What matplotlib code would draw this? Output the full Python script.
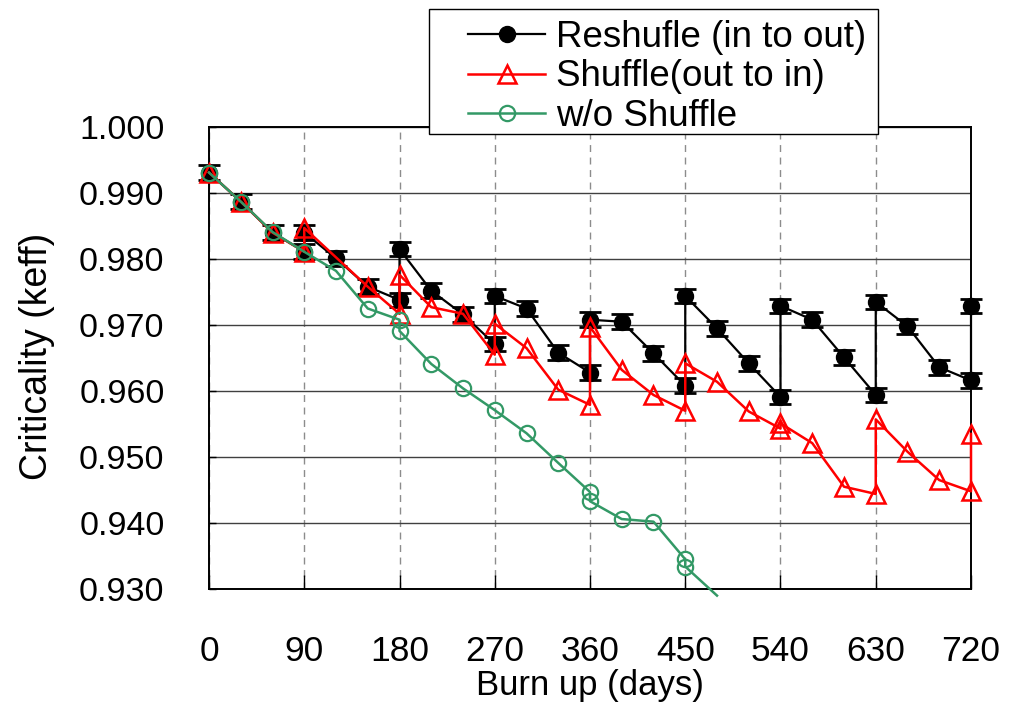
import matplotlib
matplotlib.use('Agg')
import matplotlib.pyplot as plt
from matplotlib.patches import Rectangle

plt.rcParams['font.family'] = ['Liberation Sans', 'Noto Sans CJK JP', 'DejaVu Sans']

# Reshufle (in to out)
days_re = [0, 30, 60, 90, 90, 120, 150, 180, 180, 210, 240, 270, 270, 300, 330, 360, 360,
           390, 420, 450, 450, 480, 510, 540, 540, 570, 600, 630, 630, 660, 690, 720, 720]
keff_re = [0.9931, 0.9887, 0.9840, 0.9811, 0.9840, 0.9801, 0.9758, 0.9738, 0.9815, 0.9752,
           0.9716, 0.9671, 0.9744, 0.9725, 0.9658, 0.9628, 0.9708, 0.9705, 0.9657, 0.9608,
           0.9744, 0.9695, 0.9642, 0.9591, 0.9729, 0.9708, 0.9651, 0.9594, 0.9735, 0.9698,
           0.9636, 0.9616, 0.9729]
err_re = 0.0011

# Shuffle(out to in)
days_sh = [0, 30, 60, 90, 90, 150, 180, 180, 210, 240, 270, 270, 300, 330, 360, 360,
           390, 420, 450, 450, 480, 510, 540, 540, 570, 600, 630, 630, 660, 690, 720, 720]
keff_sh = [0.9931, 0.9887, 0.9840, 0.9811, 0.9847, 0.9758, 0.9717, 0.9776, 0.9727, 0.9717,
           0.9655, 0.9702, 0.9665, 0.9602, 0.9579, 0.9697, 0.9632, 0.9594, 0.9570, 0.9642,
           0.9614, 0.9569, 0.9543, 0.9551, 0.9521, 0.9455, 0.9444, 0.9557, 0.9508, 0.9465,
           0.9448, 0.9535]

# w/o Shuffle
days_no = [0, 30, 60, 90, 120, 150, 180, 180, 210, 240, 270, 300, 330, 360, 360,
           390, 420, 450, 450, 480]
keff_no = [0.9931, 0.9887, 0.9841, 0.9811, 0.9782, 0.9725, 0.9708, 0.9691, 0.9641, 0.9604,
           0.9571, 0.9536, 0.9491, 0.9447, 0.9433, 0.9406, 0.9402, 0.9345, 0.9334, 0.9290]

xticks = [0, 90, 180, 270, 360, 450, 540, 630, 720]
yticks = [0.930, 0.940, 0.950, 0.960, 0.970, 0.980, 0.990, 1.000]

fig = plt.figure(figsize=(10.14, 7.07), dpi=100)
ax = fig.add_axes([209 / 1014, 118 / 707, 762 / 1014, 462 / 707])

eb = ax.errorbar(days_re, keff_re, yerr=err_re, fmt='none', ecolor='black',
                 elinewidth=1.5, capsize=8, capthick=2, zorder=3)
for art in eb.lines[1] + eb.lines[2]:
    art.set_clip_on(False)
ax.plot(days_re, keff_re, color='black', lw=1.6, marker='o', ms=11.5,
        mfc='black', mec='black', label='Reshufle (in to out)', zorder=4, clip_on=False)
ax.plot(days_sh, keff_sh, color='#ff0000', lw=1.8, marker='^', ms=13,
        mfc='none', mec='#ff0000', mew=1.8, label='Shuffle(out to in)', zorder=5,
        clip_on=False)
ax.plot(days_no, keff_no, color='#339966', lw=1.8, marker='o', ms=11,
        mfc='none', mec='#339966', mew=1.6, markevery=list(range(len(days_no) - 1)),
        label='w/o Shuffle', zorder=6, clip_on=False)

ax.set_xlim(0, 720)
ax.set_ylim(0.930, 1.000)
ax.set_xticks(xticks)
ax.set_yticks(yticks)
ax.set_yticklabels(['%.3f' % v for v in yticks])

ax.set_axisbelow(True)
ax.yaxis.grid(True, color='#404040', lw=1.0)
ax.xaxis.grid(True, color='#8c8c8c', lw=1.0, ls=(0, (5, 4)))
for s in ax.spines.values():
    s.set_linewidth(1.4)
    s.set_color('black')

ax.tick_params(axis='x', direction='in', length=10, width=1, pad=33, labelsize=25.5)
ax.tick_params(axis='y', direction='in', length=5, width=1, pad=32, labelsize=24.5)

fig.text(590 / 1014, 1 - 686 / 707, 'Burn up (days)', ha='center', va='center', fontsize=25)
fig.text(37 / 1014, 1 - 356 / 707, 'Criticality (keff)', ha='center', va='center',
         rotation=90, fontsize=27)

# legend box drawn separately so its padding can match the original
fig.patches.append(Rectangle((429 / 1014, 1 - 134 / 707), 449 / 1014, 125 / 707,
                             transform=fig.transFigure, facecolor='white',
                             edgecolor='black', lw=1.0, zorder=2))
leg = fig.legend(loc='upper left', bbox_to_anchor=(468 / 1014, 1 - 20 / 707),
                 borderaxespad=0, fontsize=26.5, frameon=False,
                 handlelength=2.1, handletextpad=0.3, borderpad=0.0,
                 labelspacing=0.12, markerscale=1.0)
leg.set_zorder(5)

fig.savefig('out.png', dpi=100)
